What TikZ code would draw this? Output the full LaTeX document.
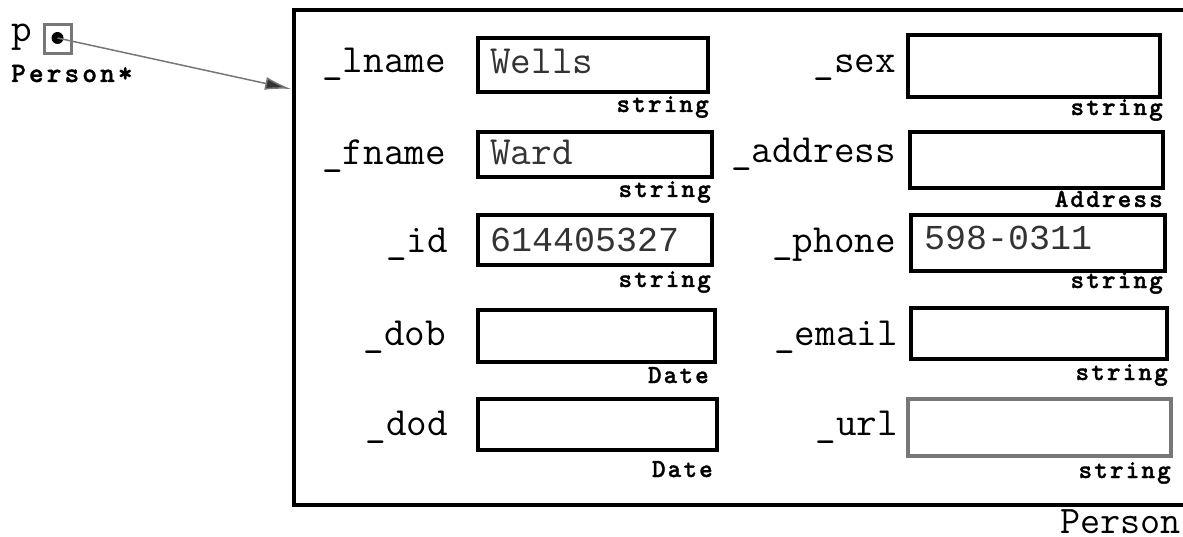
\documentclass[tikz,border=0pt]{standalone}
\usepackage{fontspec}
\usetikzlibrary{arrows.meta}
\newfontfamily\labfont{Latin Modern Mono}
\newfontfamily\digfont{Liberation Mono}
\newfontfamily\typfont[LetterSpace=8,FakeBold=1.2]{lmmonolt10-bold.otf}
\newfontfamily\ptypfont[LetterSpace=11,FakeBold=1.2]{lmmonolt10-bold.otf}
\definecolor{valgray}{HTML}{333333}
\definecolor{ptrgray}{HTML}{777777}
\tikzset{
  lab/.style={anchor=base east, inner sep=0pt, font=\labfont\fontsize{40}{40}\selectfont},
  val/.style={anchor=base west, inner sep=0pt, text=valgray, font=\labfont\fontsize{40}{40}\selectfont},
  dig/.style={anchor=base west, inner sep=0pt, text=valgray, font=\digfont\fontsize{35}{35}\selectfont},
  typ/.style={anchor=base east, inner sep=0pt, font=\typfont\fontsize{26}{26}\selectfont},
  field/.style={draw=black, line width=4pt, fill=white},
}
\begin{document}
\begin{tikzpicture}[x=1pt,y=-1pt]
\useasboundingbox (0,0) rectangle (1183,537);
\fill[white] (0,0) rectangle (1183,537);
\clip (0,0) rectangle (1183,537);
% outer object box
\node[draw=black, line width=4pt, inner sep=0pt, minimum width=960pt, minimum height=495pt, anchor=north west] (obj) at (292,8) {};
\node[anchor=base west, inner sep=0pt, font=\labfont\fontsize{39}{39}\selectfont] (objtype) at (1060,533) {Person};
% pointer
\node[anchor=base west, inner sep=0pt, font=\labfont\fontsize{40}{40}\selectfont] (pname) at (11,42) {p};
\node[draw=ptrgray, line width=3pt, minimum width=27pt, minimum height=29pt, inner sep=0pt] (pbox) at (57.5,39) {};
\node[circle, fill=black, minimum size=12pt, inner sep=0pt] (pdot) at (57.5,38) {};
\node[anchor=base west, inner sep=0pt, font=\ptypfont\fontsize{28}{28}\selectfont] (ptype) at (11,82) {Person*};
\coordinate (tip) at (291,89);
\draw[ptrgray, line width=1.5pt, -{Latex[length=26pt,width=13pt,fill=valgray]}] (pdot.center) -- (tip);
% left column
\draw[field] (478,38) rectangle (708,92);
\node[lab] (l1) at (446,73) {\_lname};
\node[val] (v1) at (490,74) {Wells};
\node[typ] (t1) at (709,112) {string};

\draw[field] (478,132) rectangle (712,177);
\node[lab] (l2) at (446,165) {\_fname};
\node[val] (v2) at (490,165) {Ward};
\node[typ] (t2) at (711,197) {string};

\draw[field] (478,215) rectangle (712,265);
\node[lab] (l3) at (448,253) {\_id};
\node[dig] (v3) at (490,252) {614405327};
\node[typ] (t3) at (711,287) {string};

\draw[field] (478,310) rectangle (715,362);
\node[lab] (l4) at (446,345) {\_dob};
\node[typ] (t4) at (709,383) {Date};

\draw[field] (478,399) rectangle (717,450);
\node[lab] (l5) at (448,435) {\_dod};
\node[typ] (t5) at (713,477) {Date};
% right column
\draw[field] (908,35) rectangle (1160,97);
\node[lab] (r1) at (896,73) {\_sex};
\node[typ] (u1) at (1163,115) {string};

\draw[field] (910,132) rectangle (1163,188);
\node[lab] (r2) at (896,163) {\_address};
\node[typ] (u2) at (1163,207) {Address};

\draw[field] (911,215) rectangle (1165,271);
\node[lab] (r3) at (896,253) {\_phone};
\node[dig] (w3) at (924,250) {598-0311};
\node[typ] (u3) at (1163,288) {string};

\draw[field] (911,308) rectangle (1167,359);
\node[lab] (r4) at (898,345) {\_email};
\node[typ] (u4) at (1168,380) {string};

\draw[draw=ptrgray, line width=3.5pt] (908,399) rectangle (1171,456);
\node[lab] (r5) at (898,435) {\_url};
\node[typ] (u5) at (1171,478) {string};
\end{tikzpicture}
\end{document}
